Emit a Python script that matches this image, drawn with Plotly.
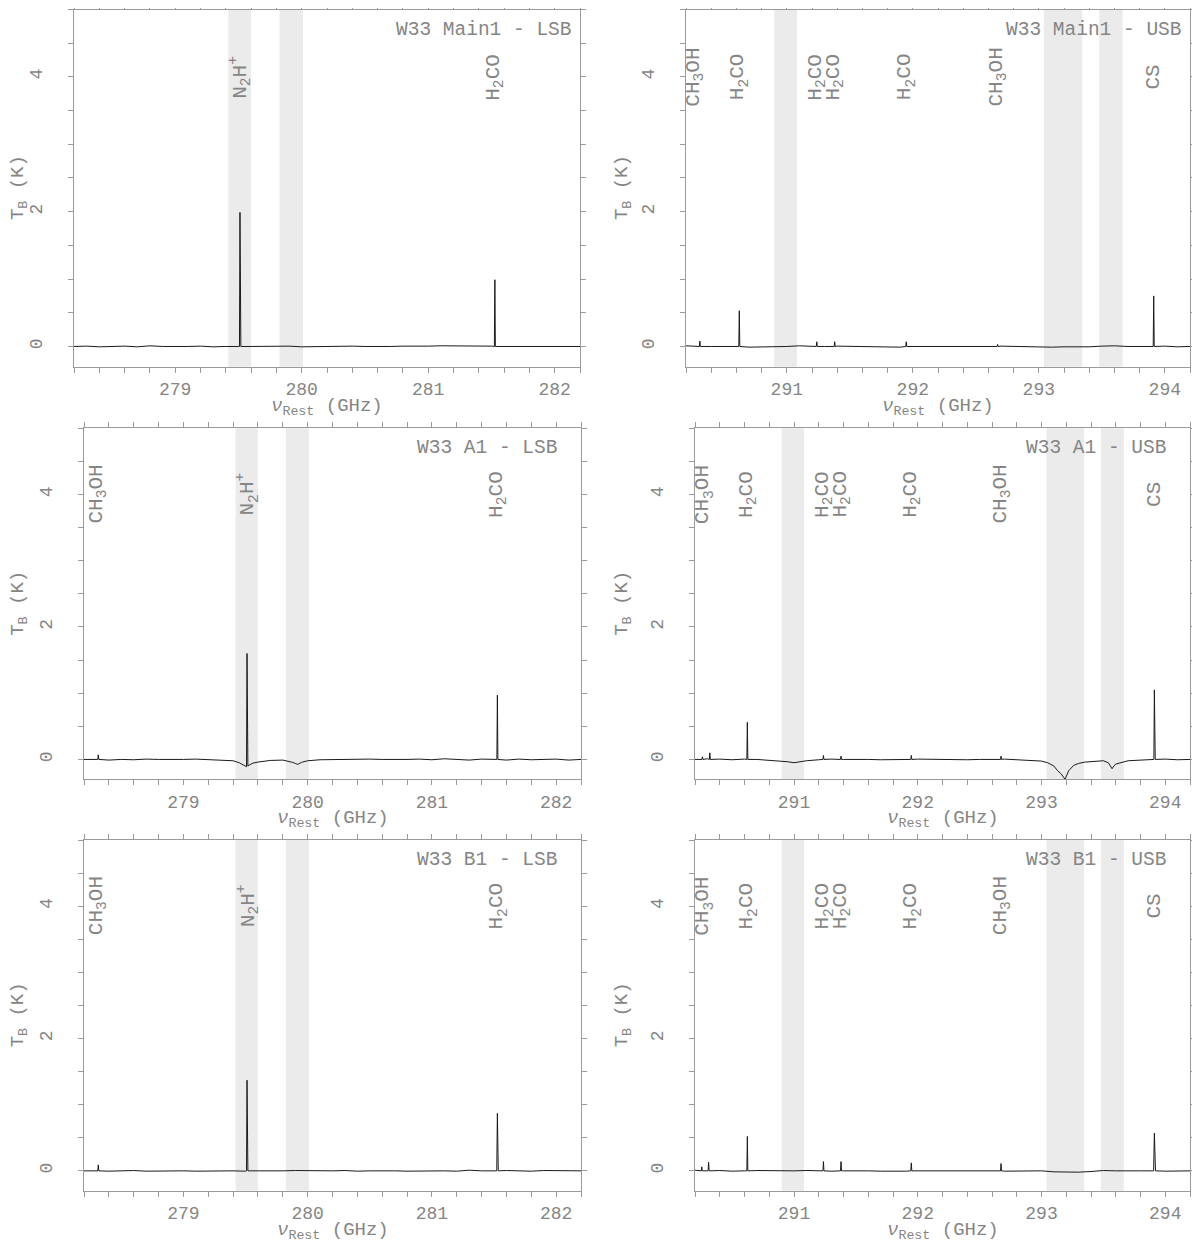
import plotly.graph_objects as go

# frequency grids (GHz) of the baseline samples for each sideband
LSB_FREQ = [278.2, 278.3, 278.4, 278.5, 278.6, 278.7, 278.8, 278.9, 279.0, 279.1,
            279.2, 279.3, 279.4, 279.5, 279.6, 279.7, 279.8, 279.9, 280.0, 280.1,
            280.2, 280.3, 280.4, 280.5, 280.6, 280.7, 280.8, 280.9, 281.0, 281.1,
            281.2, 281.3, 281.4, 281.5, 281.6, 281.7, 281.8, 281.9, 282.0, 282.1,
            282.2]
USB_FREQ = [290.2, 290.3, 290.4, 290.5, 290.6, 290.7, 290.8, 290.9, 291.0, 291.1,
            291.2, 291.3, 291.4, 291.5, 291.6, 291.7, 291.8, 291.9, 292.0, 292.1,
            292.2, 292.3, 292.4, 292.5, 292.6, 292.7, 292.8, 292.9, 293.0, 293.1,
            293.2, 293.3, 293.4, 293.5, 293.6, 293.7, 293.8, 293.9, 294.0, 294.1,
            294.2]

# baseline brightness temperatures (K) on the grids above
main1_lsb_base = [0.00, 0.005, -0.005, 0.00, 0.005, -0.005, 0.01, 0.00, -0.005, 0.00,
                  0.005, -0.005, 0.00, -0.005, 0.00, 0.005, 0.00, 0.005, -0.005, 0.00,
                  0.005, 0.01, 0.005, 0.00, -0.005, 0.00, 0.005, 0.00, 0.005, 0.01,
                  0.01, 0.015, 0.01, 0.005, 0.00, -0.005, 0.00, 0.005, 0.00, -0.005,
                  0.00]
main1_usb_base = [0.01, 0.005, 0.00, -0.005, 0.00, -0.01, -0.01, -0.005, 0.00, 0.01,
                  0.005, 0.00, 0.005, 0.00, -0.005, -0.01, -0.015, -0.01, 0.00, 0.005,
                  0.00, 0.005, 0.00, -0.005, 0.00, 0.005, 0.00, -0.005, -0.005, -0.01,
                  -0.005, -0.01, -0.005, 0.005, 0.01, 0.00, -0.005, 0.00, 0.005, -0.005,
                  0.00]
a1_lsb_base = [0.00, 0.01, -0.01, 0.00, -0.005, 0.005, 0.00, -0.005, 0.00, 0.005,
               0.00, -0.005, -0.02, -0.105, -0.04, -0.015, -0.01, -0.06, -0.02, -0.005,
               0.00, -0.005, 0.00, 0.005, 0.00, -0.005, 0.00, 0.005, -0.005, 0.01,
               0.00, -0.01, 0.005, 0.00, -0.01, 0.005, -0.005, 0.00, 0.005, -0.01,
               0.00]
a1_usb_base = [0.00, 0.01, 0.005, -0.005, 0.005, 0.00, -0.01, -0.02, -0.05, -0.02,
               -0.005, 0.005, 0.00, 0.005, 0.00, -0.005, -0.005, 0.00, 0.005, 0.00,
               -0.005, 0.00, -0.005, 0.00, -0.005, 0.005, -0.005, -0.01, -0.025, -0.10,
               -0.25, -0.06, -0.03, -0.02, -0.07, -0.02, -0.005, 0.00, 0.005, -0.005,
               0.00]
b1_lsb_base = [0.00, 0.01, -0.005, 0.00, 0.005, -0.005, 0.00, 0.005, 0.00, -0.005,
               0.00, 0.005, 0.00, -0.005, 0.00, -0.005, 0.00, 0.005, 0.00, 0.005,
               0.00, 0.005, -0.005, 0.00, 0.005, 0.00, -0.005, 0.00, 0.005, 0.00,
               -0.005, 0.01, 0.00, -0.005, 0.005, 0.00, -0.005, 0.005, 0.00, -0.005,
               0.00]
b1_usb_base = [0.01, 0.00, 0.005, -0.005, 0.00, 0.005, 0.00, -0.005, 0.00, 0.005,
               0.00, -0.005, 0.00, 0.005, 0.00, -0.005, -0.01, -0.005, 0.00, 0.005,
               0.00, -0.005, 0.00, 0.005, 0.00, -0.005, 0.00, 0.005, 0.00, -0.015,
               -0.02, -0.02, -0.01, 0.005, 0.00, -0.005, 0.00, 0.00, -0.005, 0.00,
               0.00]

# extra channels: emission spikes and absorption dips (GHz, K)
main1_lsb_chan_f = [279.508, 279.512, 279.515, 279.519, 281.523, 281.527, 281.531]
main1_lsb_chan_t = [0.0, 1.99, 1.22, 0.0, 0.0, 0.99, 0.0]

main1_usb_chan_f = [290.306, 290.31, 290.314, 290.619, 290.623, 290.627,
                    291.234, 291.238, 291.242, 291.376, 291.380, 291.384,
                    291.944, 291.948, 291.952, 292.669, 292.673, 292.677,
                    293.908, 293.912, 293.916]
main1_usb_chan_t = [0.0, 0.08, 0.0, 0.0, 0.53, 0.0,
                    0.0, 0.07, 0.0, 0.0, 0.07, 0.0,
                    0.0, 0.07, 0.0, 0.0, 0.03, 0.0,
                    0.0, 0.75, 0.0]

a1_lsb_chan_f = [278.311, 278.315, 278.319,
                 279.45, 279.48, 279.508, 279.512, 279.515, 279.519, 279.53, 279.56,
                 279.85, 279.88, 279.92, 279.95,
                 281.523, 281.527, 281.531]
a1_lsb_chan_t = [0.0, 0.07, 0.0,
                 -0.05, -0.08, -0.11, 1.60, 0.25, -0.10, -0.085, -0.055,
                 -0.025, -0.045, -0.075, -0.045,
                 0.0, 0.97, 0.0]

a1_usb_chan_f = [290.256, 290.26, 290.264, 290.316, 290.32, 290.324,
                 290.619, 290.623, 290.627, 290.95, 291.05,
                 291.234, 291.238, 291.242, 291.376, 291.380, 291.384,
                 291.944, 291.948, 291.952, 292.669, 292.673, 292.677,
                 293.05, 293.13, 293.16, 293.19, 293.22, 293.26, 293.35,
                 293.54, 293.57, 293.585,
                 293.908, 293.912, 293.915, 293.919]
a1_usb_chan_t = [0.0, 0.04, 0.0, 0.0, 0.10, 0.0,
                 0.0, 0.56, 0.0, -0.035, -0.035,
                 0.0, 0.06, 0.0, 0.0, 0.05, 0.0,
                 0.0, 0.06, 0.0, 0.0, 0.05, 0.0,
                 -0.05, -0.17, -0.22, -0.30, -0.17, -0.09, -0.04,
                 -0.05, -0.14, -0.10,
                 0.0, 1.05, 0.60, 0.0]

b1_lsb_chan_f = [278.311, 278.315, 278.319, 279.508, 279.512, 279.515, 279.519,
                 281.522, 281.527, 281.530, 281.534]
b1_lsb_chan_t = [0.0, 0.09, 0.0, 0.0, 1.37, 0.57, 0.0,
                 0.0, 0.87, 0.40, 0.0]

b1_usb_chan_f = [290.251, 290.255, 290.259, 290.306, 290.31, 290.314,
                 290.619, 290.623, 290.627,
                 291.234, 291.238, 291.242, 291.376, 291.380, 291.384,
                 291.944, 291.948, 291.952, 292.669, 292.673, 292.677,
                 293.906, 293.912, 293.916, 293.921]
b1_usb_chan_t = [0.0, 0.06, 0.0, 0.0, 0.13, 0.0,
                 0.0, 0.52, 0.0,
                 0.0, 0.14, 0.0, 0.0, 0.14, 0.0,
                 0.0, 0.12, 0.0, 0.0, 0.11, 0.0,
                 0.0, 0.57, 0.30, 0.0]

# identified lines (label centre frequency, label)
LSB_LINES = [(278.305, "CH<sub>3</sub>OH"), (279.512, "N<sub>2</sub>H<sup>+</sup>"),
             (281.527, "H<sub>2</sub>CO")]
USB_LINES = [(290.27, "CH<sub>3</sub>OH"), (290.623, "H<sub>2</sub>CO"),
             (291.238, "H<sub>2</sub>CO"), (291.380, "H<sub>2</sub>CO"),
             (291.948, "H<sub>2</sub>CO"), (292.673, "CH<sub>3</sub>OH"),
             (293.912, "CS")]

# shaded frequency ranges
LSB_BANDS = [(279.42, 279.60), (279.825, 280.01)]
USB_BANDS = [(290.90, 291.08), (293.04, 293.345), (293.48, 293.665)]

LSB_RANGE = [278.2, 282.2]
USB_RANGE = [290.2, 294.2]

X_TITLE = "<i>ν</i><sub>Rest</sub> (GHz)"
Y_TITLE = "T<sub>B</sub> (K)"

panels = [
    ("W33 Main1 - LSB", LSB_FREQ, main1_lsb_base, main1_lsb_chan_f, main1_lsb_chan_t, LSB_LINES[1:], LSB_BANDS, LSB_RANGE),
    ("W33 Main1 - USB", USB_FREQ, main1_usb_base, main1_usb_chan_f, main1_usb_chan_t, USB_LINES, USB_BANDS, USB_RANGE),
    ("W33 A1 - LSB", LSB_FREQ, a1_lsb_base, a1_lsb_chan_f, a1_lsb_chan_t, LSB_LINES, LSB_BANDS, LSB_RANGE),
    ("W33 A1 - USB", USB_FREQ, a1_usb_base, a1_usb_chan_f, a1_usb_chan_t, USB_LINES, USB_BANDS, USB_RANGE),
    ("W33 B1 - LSB", LSB_FREQ, b1_lsb_base, b1_lsb_chan_f, b1_lsb_chan_t, LSB_LINES, LSB_BANDS, LSB_RANGE),
    ("W33 B1 - USB", USB_FREQ, b1_usb_base, b1_usb_chan_f, b1_usb_chan_t, USB_LINES, USB_BANDS, USB_RANGE),
]

W, H = 1200, 1244
OFF = 8  # the page body adds an 8 px margin around the figure
FONT = "Liberation Mono"
AXIS_GREY = "#9a9a9a"
TEXT_GREY = "#858585"

# panel boxes in page pixels: (left, right) per row/column and (top, bottom) per row
col_px = [[(74, 580), (686, 1190)], [(84, 581), (695, 1190)], [(84, 581), (695, 1190)]]
row_px = [(9.5, 366.7), (428.3, 779.3), (840, 1190.7)]
ytitle_px = [19, 623]  # page x of the y-axis titles per column

fig = go.Figure()
layout_axes = {}

for i, (title, grid, base, ch_f, ch_t, lines, bands, xr) in enumerate(panels):
    row, col = divmod(i, 2)
    n = "" if i == 0 else str(i + 1)
    xa, ya = "x" + n, "y" + n

    pts = sorted(zip(list(grid) + ch_f, list(base) + ch_t))
    fig.add_trace(go.Scatter(
        x=[p[0] for p in pts], y=[p[1] for p in pts], mode="lines",
        line=dict(color="#1a1a1a", width=1), xaxis=xa, yaxis=ya,
        showlegend=False, hoverinfo="skip",
    ))

    for lo, hi in bands:
        fig.add_shape(type="rect", xref=xa, yref=ya + " domain", x0=lo, x1=hi, y0=0, y1=1,
                      fillcolor="#ebebeb", line_width=0, layer="below")

    for f0, name in lines:
        fig.add_annotation(x=f0, y=4.0, xref=xa, yref=ya, text=name, textangle=-90,
                           showarrow=False, xanchor="center", yanchor="middle",
                           font=dict(family=FONT, size=21, color=TEXT_GREY))

    fig.add_annotation(x=0.81, y=0.943, xref=xa + " domain", yref=ya + " domain", text=title,
                       showarrow=False, xanchor="center", yanchor="middle",
                       font=dict(family=FONT, size=19.5, color=TEXT_GREY))

    # axis titles
    fig.add_annotation(x=0.5, y=0, xref=xa + " domain", yref=ya + " domain", yshift=-40,
                       text=X_TITLE, showarrow=False, xanchor="center", yanchor="middle",
                       font=dict(family=FONT, size=19, color=TEXT_GREY))
    fig.add_annotation(x=(ytitle_px[col] - OFF) / W, y=0.5, xref="paper", yref=ya + " domain",
                       text=Y_TITLE, textangle=-90, showarrow=False,
                       xanchor="center", yanchor="middle",
                       font=dict(family=FONT, size=19, color=TEXT_GREY))

    l, r = col_px[row][col]
    t, b = row_px[row]
    common = dict(showline=True, linecolor=AXIS_GREY, linewidth=1, mirror="ticks",
                  ticks="outside", ticklen=5, tickwidth=1, tickcolor=AXIS_GREY,
                  showgrid=False, zeroline=False, automargin=False,
                  tickfont=dict(family=FONT, size=18, color=TEXT_GREY))
    layout_axes["xaxis" + n] = dict(
        common, domain=[(l - OFF) / W, (r - OFF) / W], anchor=ya, range=xr, tick0=0, dtick=1,
        minor=dict(tick0=0, dtick=0.2, ticks="outside", ticklen=5, tickcolor=AXIS_GREY, showgrid=False),
        ticklabelstandoff=1,
    )
    layout_axes["yaxis" + n] = dict(
        common, domain=[1 - (b - OFF) / H, 1 - (t - OFF) / H], anchor=xa, range=[-0.3, 5],
        tick0=0, dtick=2, tickangle=-90, ticklabelstandoff=19,
        minor=dict(tick0=0, dtick=0.5, ticks="outside", ticklen=5, tickcolor=AXIS_GREY, showgrid=False),
    )

fig.update_layout(
    width=W, height=H, margin=dict(l=0, r=0, t=0, b=0),
    paper_bgcolor="white", plot_bgcolor="white",
    **layout_axes,
)

fig.write_html("out.html")
